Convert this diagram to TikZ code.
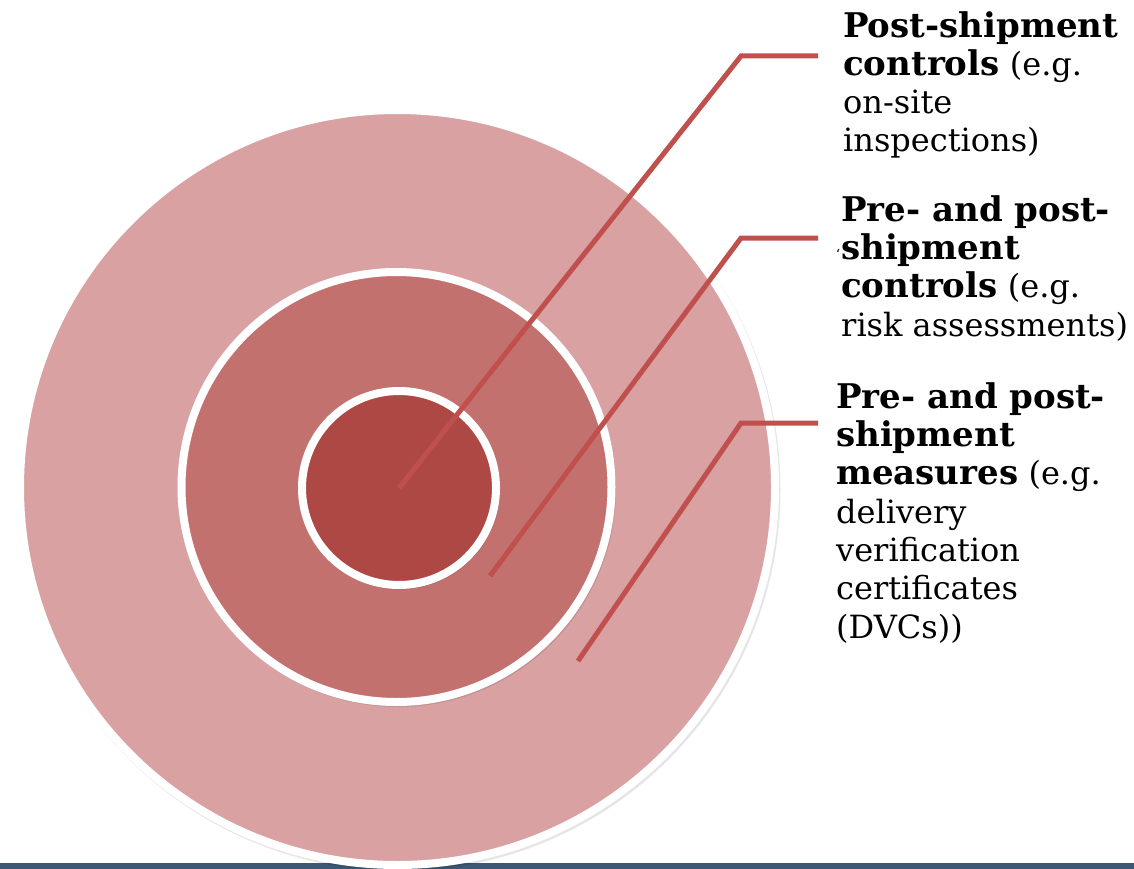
\documentclass[tikz,border=0pt]{standalone}
\usepackage{fontspec}
\setmainfont{DejaVu Serif}
\definecolor{ringout}{HTML}{D9A1A2}
\definecolor{ringmid}{HTML}{C3716F}
\definecolor{ringin}{HTML}{AD4845}
\definecolor{leader}{HTML}{C0504D}
\definecolor{barblue}{HTML}{3C5875}
\newcommand\hb[1]{{\fontsize{34}{38.3}\selectfont\bfseries #1}}
\tikzset{
  disk/.style={circle, draw=white, line width=8pt, inner sep=0pt, outer sep=0pt},
  diskshadow/.style={fill=black, opacity=0.10},
  leaderline/.style={draw=leader, line width=5pt, line join=miter},
  label/.style={anchor=base west, inner sep=0pt, align=left,
    font=\fontsize{32}{38.3}\selectfont},
}
\begin{document}
\begin{tikzpicture}[x=1pt,y=-1pt]
\useasboundingbox (0,0) rectangle (1134,869);
\fill[white] (0,0) rectangle (1134,869);
\fill[barblue] (0,863) rectangle (1134,869);
% soft shadows
\fill[diskshadow] (399,489.5) circle (381.5pt);
\node[disk, fill=ringout, minimum size=755pt] (outer) at (397.5,487.5) {};
\fill[diskshadow] (398,489) circle (218pt);
\node[disk, fill=ringmid, minimum size=430pt] (middle) at (396.5,487) {};
\fill[diskshadow] (400,489.5) circle (100pt);
\node[disk, fill=ringin, minimum size=194pt] (inner) at (399,488) {};
% labels (anchored at the baseline of the last line)
\node[label] (t1) at (843,152) {\hb{Post-shipment}\\\hb{controls} (e.g.\\on-site\\inspections)};
\node[label] (t2) at (841,336) {\hb{Pre- and post-}\\\llap{\fontsize{14}{14}\selectfont‘\hspace{1pt}}\hb{shipment}\\\hb{controls} (e.g.\\risk assessments)};
\node[label] (t3) at (836,638) {\hb{Pre- and post-}\\\hb{shipment}\\\hb{measures} (e.g.\\delivery\\verification\\certificates\\(DVCs))};
% leader coordinates
\coordinate (s1) at (inner.center);
\coordinate (k1) at (741,56);
\coordinate (e1) at (818,56);
\coordinate (s2) at (490,576);
\coordinate (k2) at (741,238);
\coordinate (e2) at (818,238);
\coordinate (s3) at (578,661);
\coordinate (k3) at (741,423);
\coordinate (e3) at (818,423);
\draw[leaderline] (s1) -- (k1) -- (e1);
\draw[leaderline] (s2) -- (k2) -- (e2);
\draw[leaderline] (s3) -- (k3) -- (e3);
\end{tikzpicture}
\end{document}
